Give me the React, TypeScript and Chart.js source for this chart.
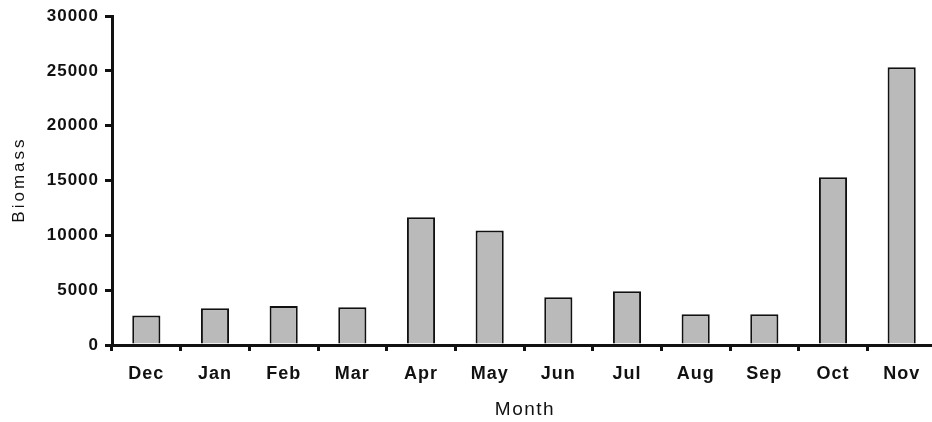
import React, { useEffect, useRef } from "react";
import { Chart, registerables } from "chart.js";

Chart.register(...registerables);

const months = ["Dec", "Jan", "Feb", "Mar", "Apr", "May", "Jun", "Jul", "Aug", "Sep", "Oct", "Nov"];
const biomass = [2700, 3350, 3550, 3450, 11650, 10450, 4350, 4900, 2800, 2800, 15300, 25350];
const yTicks = [0, 5000, 10000, 15000, 20000, 25000, 30000];
const xTitle = "Month";
const yTitle = "Biomass";

const FONT = "'Liberation Sans', Arial, Helvetica, sans-serif";

const textPlugin = {
  id: "textPlugin",
  beforeDraw(chart: any) {
    (chart.ctx as any).letterSpacing = "1px";
  },
  afterDraw(chart: any) {
    const ctx = chart.ctx as any;
    const area = chart.chartArea;
    ctx.save();
    ctx.fillStyle = "#111111";
    ctx.textAlign = "center";
    ctx.textBaseline = "middle";
    ctx.letterSpacing = "1.5px";
    ctx.font = `19px ${FONT}`;
    ctx.fillText(xTitle, (area.left + area.right) / 2 + 1, 410);
    ctx.translate(19, (area.top + area.bottom) / 2);
    ctx.rotate(-Math.PI / 2);
    ctx.letterSpacing = "3px";
    ctx.font = `17px ${FONT}`;
    ctx.fillText(yTitle, 1, 0);
    ctx.restore();
  },
};

export default function App() {
  const ref = useRef<HTMLCanvasElement | null>(null);

  useEffect(() => {
    document.body.style.margin = "0";
    document.body.style.overflow = "hidden";
    const canvas = ref.current;
    if (!canvas) return;
    const chart = new Chart(canvas, {
      type: "bar",
      data: {
        labels: months,
        datasets: [
          {
            label: yTitle,
            data: biomass,
            backgroundColor: "#bababa",
            borderColor: "#111111",
            borderWidth: 2,
            borderSkipped: "bottom",
            barPercentage: 0.41,
            categoryPercentage: 1,
          },
        ],
      },
      options: {
        animation: false,
        responsive: false,
        maintainAspectRatio: false,
        layout: { padding: { top: 15, right: 4, bottom: 0, left: 0 } },
        plugins: { legend: { display: false }, tooltip: { enabled: false } },
        scales: {
          x: {
            grid: {
              display: true,
              drawOnChartArea: false,
              drawTicks: true,
              tickLength: 6,
              tickColor: "#111111",
              lineWidth: 3,
              offset: true,
            },
            border: { display: true, color: "#111111", width: 3 },
            ticks: {
              color: "#111111",
              font: { family: FONT, size: 18, weight: "bold" },
              padding: 12,
              maxRotation: 0,
              autoSkip: false,
            },
            title: { display: false },
            afterFit: (scale: any) => {
              scale.height = 77;
            },
          },
          y: {
            min: 0,
            max: 30000,
            afterBuildTicks: (scale: any) => {
              scale.ticks = yTicks.map((v) => ({ value: v }));
            },
            grid: {
              display: true,
              drawOnChartArea: false,
              drawTicks: true,
              tickLength: 7,
              tickColor: "#111111",
              lineWidth: 3,
            },
            border: { display: true, color: "#111111", width: 3 },
            ticks: {
              color: "#111111",
              font: { family: FONT, size: 17, weight: "bold" },
              padding: 6,
              callback: (v: any) => String(v),
            },
            title: { display: false },
            afterFit: (scale: any) => {
              scale.width = 112;
            },
          },
        },
      },
      plugins: [textPlugin],
    });
    return () => chart.destroy();
  }, []);

  return (
    <div style={{ width: 940, height: 422, background: "#ffffff" }}>
      <canvas ref={ref} width={940} height={422} style={{ display: "block", width: 940, height: 422 }} />
    </div>
  );
}
